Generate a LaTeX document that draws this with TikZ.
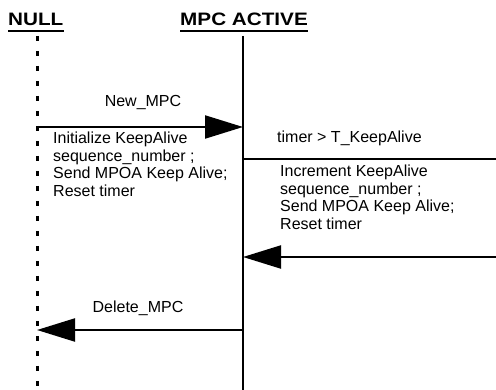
\documentclass[tikz,border=0pt]{standalone}
\usepackage{fontspec}
\setmainfont{Liberation Sans}
\newfontfamily\titlefont[FakeStretch=1.15]{Liberation Sans}
\usetikzlibrary{arrows.meta,calc}
\begin{document}
\begin{tikzpicture}[x=1pt,y=-1pt,
  title/.style={font=\titlefont\fontsize{18}{20}\selectfont\bfseries, inner sep=0pt, anchor=base west},
  lbl/.style={font=\fontsize{16}{17.5}\selectfont, inner sep=0pt, anchor=base west, align=left},
  clbl/.style={font=\fontsize{16}{17.5}\selectfont, inner sep=0pt, anchor=base},
  msg/.style={line width=2.2pt, -{Triangle[length=38pt,width=23pt]}},
  life/.style={line width=2pt},
  uline/.style={line width=1.6pt},
  nulllife/.style={line width=3pt, dash pattern=on 5pt off 10pt}]
\useasboundingbox (0,0) rectangle (496,390);
% titles
\node[title] (tnull) at (8,26) {NULL};
\node[title] (tmpc) at (180,26) {MPC ACTIVE};
\draw[uline] ($(tnull.base west)+(0,5)$) -- ($(tnull.base east)+(0,5)$);
\draw[uline] ($(tmpc.base west)+(0,5)$) -- ($(tmpc.base east)+(0,5)$);
% lifelines
\coordinate (nTop) at (37,36);
\coordinate (nBot) at (37,390);
\coordinate (mTop) at (243,36);
\coordinate (mBot) at (243,390);
\draw[nulllife] (nTop) -- (nBot);
\draw[life] (mTop) -- (mBot);
% message points
\coordinate (n1) at (37,127);
\coordinate (m1) at (243,127);
\coordinate (m2) at (243,159);
\coordinate (r2) at (496,159);
\coordinate (r3) at (496,257);
\coordinate (m3) at (243,257);
\coordinate (m4) at (243,330);
\coordinate (n4) at (37,330);
% messages
\draw[msg] (n1) -- (m1);
\draw[life] (m2) -- (r2);
\draw[msg] (r3) -- (m3);
\draw[msg] (m4) -- (n4);
% labels (base anchor = baseline of last line)
\node[clbl] (lnew) at (143,107) {New\_MPC};
\node[lbl] (linit) at (53,196.5) {Initialize KeepAlive\\sequence\_number ;\\Send MPOA Keep Alive;\\Reset timer};
\node[lbl] (ltimer) at (277,143) {timer > T\_KeepAlive};
\node[lbl] (linc) at (280,229.5) {Increment KeepAlive\\sequence\_number ;\\Send MPOA Keep Alive;\\Reset timer};
\node[clbl] (ldel) at (138,313) {Delete\_MPC};
\end{tikzpicture}
\end{document}
